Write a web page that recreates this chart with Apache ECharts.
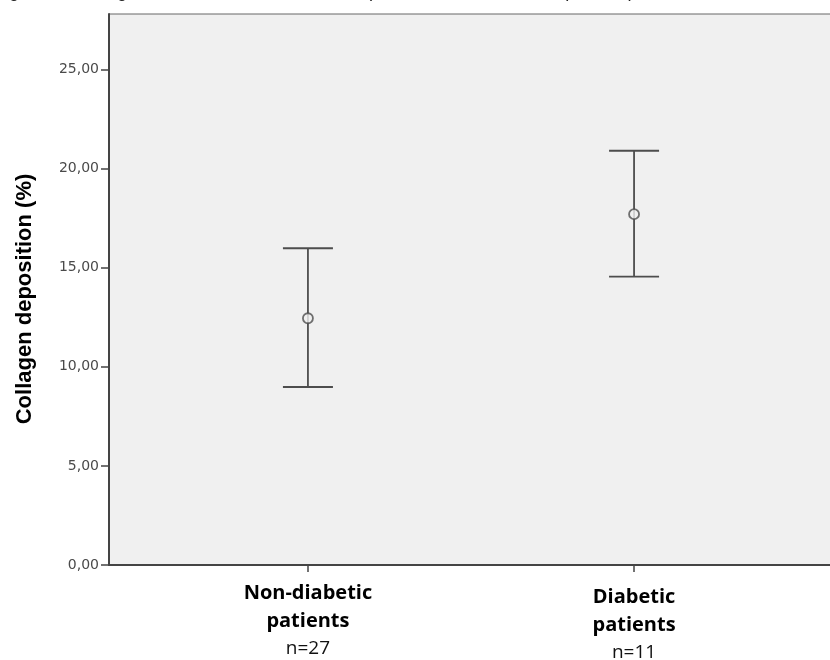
<!DOCTYPE html>
<html>
<head>
<meta charset="utf-8">
<script src="https://cdn.jsdelivr.net/npm/echarts@6/dist/echarts.min.js"></script>
<style>
  html, body { margin: 0; padding: 0; background: #fff; }
  #chart { width: 830px; height: 660px; }
</style>
</head>
<body>
<div id="chart"></div>
<script>
// groups and their sample size
var groups = ['Non-diabetic\npatients', 'Diabetic\npatients'];
var groupN = ['n=27', 'n=11'];
// mean collagen deposition and 95% CI
var means = [12.45, 17.7];
var lower = [8.98, 14.55];
var upper = [15.98, 20.9];
var yTicks = [0, 5, 10, 15, 20, 25];

var lineColor = '#4d4d4d';

var myChart = echarts.init(document.getElementById('chart'));

var barData = [];
var pointData = [];
for (var i = 0; i < groups.length; i++) {
	barData.push([i, lower[i], upper[i]]);
	pointData.push([i, means[i]]);
}

var option = {
	backgroundColor: '#ffffff',
	animation: false,
	graphic: [{
		type: 'text',
		left: -6,
		top: -17,
		style: {
			text: 'Figure 4 - Collagen content in the bladder wall (diabetic vs non-diabetic patients)',
			font: '18px "Liberation Sans"',
			fill: '#222'
		}
	}, {
		// y axis title, drawn by hand so it can sit where the original does
		type: 'text',
		x: 25,
		y: 299,
		rotation: Math.PI / 2,
		style: {
			text: 'Collagen deposition (%)',
			font: 'bold 22px "Liberation Sans"',
			fill: '#000',
			textAlign: 'center',
			textVerticalAlign: 'middle'
		}
	}],
	grid: {
		left: 109,
		right: -3,
		top: 14,
		bottom: 95,
		outerBoundsMode: 'none',
		show: true,
		backgroundColor: '#f0f0f0',
		borderColor: '#666',
		borderWidth: 1
	},
	xAxis: {
		type: 'value',
		min: -0.61,
		max: 1.61,
		splitLine: { show: false },
		axisLine: { show: true, onZero: false, lineStyle: { color: '#444', width: 2 } },
		axisTick: {
			show: true,
			customValues: [0, 1],
			length: 7,
			lineStyle: { color: '#444', width: 1.5 }
		},
		axisLabel: {
			customValues: [0, 1],
			margin: 14,
			formatter: function(v) {
				var idx = Math.round(v);
				var extra = idx == 1 ? '{s|}\n' : '';
				return extra + '{b|' + groups[idx].split('\n').join('}\n{b|') + '}\n{n|' + groupN[idx] + '}';
			},
			rich: {
				b: { fontFamily: '"Open Sans"', fontWeight: 'bold', fontSize: 20, lineHeight: 28, color: '#000' },
				n: { fontFamily: '"Open Sans"', fontSize: 19, lineHeight: 28, color: '#111' },
				s: { fontSize: 4, lineHeight: 4 }
			}
		}
	},
	yAxis: {
		type: 'value',
		min: 0,
		max: 27.8,
		interval: 5,
		splitLine: { show: false },
		axisLine: { show: true, onZero: false, lineStyle: { color: '#444', width: 2 } },
		axisTick: { show: true, length: 8, lineStyle: { color: '#444', width: 1.5 } },
		axisLabel: {
			margin: 10,
			fontFamily: '"DejaVu Sans"',
			fontSize: 14,
			color: '#4a4a4a',
			showMaxLabel: false,
			formatter: function(v) {
				return v.toFixed(2).replace('.', ',');
			}
		}
	},
	series: [{
		type: 'custom',
		data: barData,
		renderItem: function(params, api) {
			var x = api.value(0);
			var lo = api.coord([x, api.value(1)]);
			var hi = api.coord([x, api.value(2)]);
			var half = 25;
			var style = { stroke: lineColor, lineWidth: 1.8 };
			return {
				type: 'group',
				children: [
					{ type: 'line', shape: { x1: lo[0], y1: lo[1], x2: hi[0], y2: hi[1] }, style: style },
					{ type: 'line', shape: { x1: hi[0] - half, y1: hi[1], x2: hi[0] + half, y2: hi[1] }, style: style },
					{ type: 'line', shape: { x1: lo[0] - half, y1: lo[1], x2: lo[0] + half, y2: lo[1] }, style: style }
				]
			};
		},
		z: 2
	}, {
		type: 'scatter',
		data: pointData,
		symbol: 'circle',
		symbolSize: 10,
		itemStyle: { color: '#f0f0f0', borderColor: lineColor, borderWidth: 1.8 },
		z: 3
	}]
};

myChart.setOption(option);
</script>
</body>
</html>
